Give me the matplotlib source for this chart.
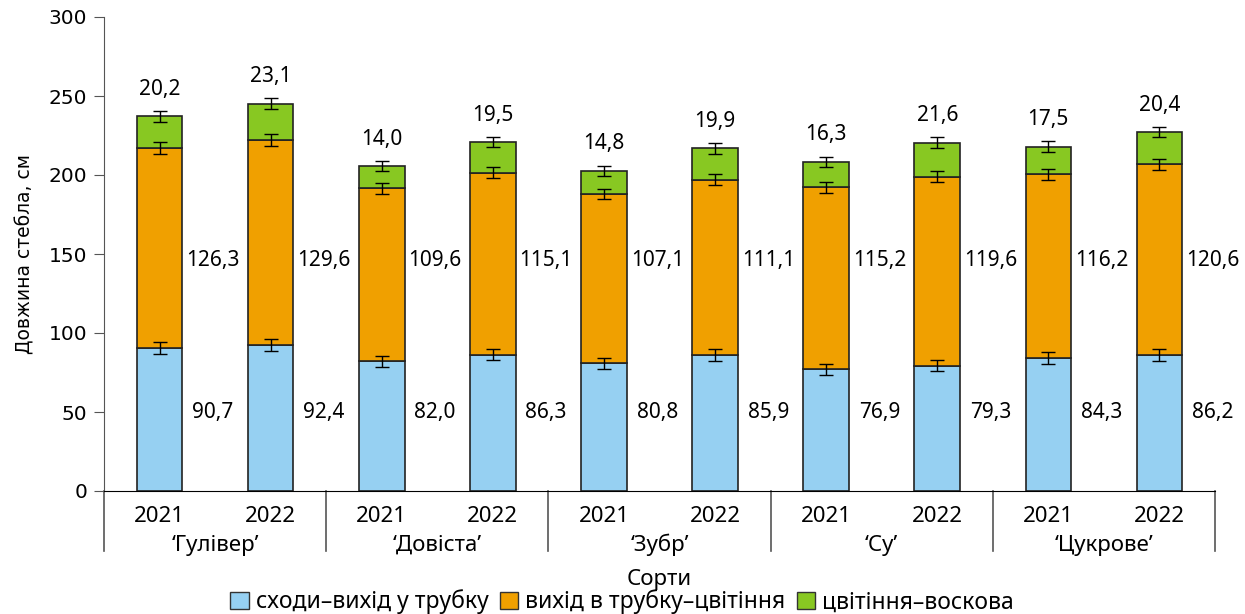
import matplotlib
matplotlib.use("Agg")
import matplotlib.pyplot as plt
from matplotlib.patches import Patch
import numpy as np

varieties = ["‘Гулівер’", "‘Довіста’", "‘Зубр’", "‘Су’", "‘Цукрове’"]
years = ["2021", "2022"]
seg1 = [90.7, 92.4, 82.0, 86.3, 80.8, 85.9, 76.9, 79.3, 84.3, 86.2]
seg2 = [126.3, 129.6, 109.6, 115.1, 107.1, 111.1, 115.2, 119.6, 116.2, 120.6]
seg3 = [20.2, 23.1, 14.0, 19.5, 14.8, 19.9, 16.3, 21.6, 17.5, 20.4]
err1 = [3.8, 3.8, 3.6, 3.7, 3.6, 3.7, 3.5, 3.6, 3.7, 3.7]
err2 = [3.6, 3.7, 3.4, 3.5, 3.4, 3.5, 3.5, 3.6, 3.5, 3.6]
err3 = [3.5, 3.6, 3.3, 3.4, 3.3, 3.4, 3.3, 3.4, 3.3, 3.4]
labels = ["сходи–вихід у трубку", "вихід в трубку–цвітіння", "цвітіння–воскова"]
colors = ["#96D0F2", "#F0A000", "#88C822"]

plt.rcParams['font.family'] = ['DejaVu Sans']
fig = plt.figure(figsize=(12.45, 6.14), dpi=100)
ax = fig.add_axes([104/1245, 1-491/614, (1215-104)/1245, (491-17)/614])

x = np.arange(len(seg1))
s1 = np.array(seg1); s2 = np.array(seg2); s3 = np.array(seg3)
w = 0.41
ekw = dict(ecolor="black", elinewidth=1.0, capsize=5, capthick=1.0, fmt="none")
ax.bar(x, s1, w, color=colors[0], edgecolor="#222222", linewidth=1.2, zorder=2)
ax.bar(x, s2, w, bottom=s1, color=colors[1], edgecolor="#222222", linewidth=1.2, zorder=2)
ax.bar(x, s3, w, bottom=s1+s2, color=colors[2], edgecolor="#222222", linewidth=1.2, zorder=2)
ax.errorbar(x, s1, yerr=err1, zorder=3, **ekw)
ax.errorbar(x, s1+s2, yerr=err2, zorder=3, **ekw)
ax.errorbar(x, s1+s2+s3, yerr=err3, zorder=3, **ekw)

fam = ["Noto Sans", "DejaVu Sans"]
lblfont = dict(fontsize=15, family=fam)
fmt = lambda v: f"{v:.1f}".replace(".", ",")
for i in range(len(x)):
    ax.text(x[i]+0.48, 49.4, fmt(s1[i]), ha="center", va="center", **lblfont)
    ax.text(x[i]+0.48, 146.2, fmt(s2[i]), ha="center", va="center", **lblfont)
    ax.text(x[i], s1[i]+s2[i]+s3[i]+17, fmt(s3[i]), ha="center", va="center", **lblfont)

ax.set_xlim(-0.5, len(x)-0.5)
ax.set_ylim(0, 300)
ax.set_yticks(np.arange(0, 301, 50))
ax.tick_params(axis="y", labelsize=14.5, direction="out", length=7, color="#555555", pad=5)
ax.set_xticks([])
for sp in ["top", "right"]:
    ax.spines[sp].set_visible(False)
ax.spines["left"].set_color("#555555")
ax.spines["left"].set_bounds(0, 300)
ax.spines["bottom"].set_color("black")

trans = ax.get_xaxis_transform()
ylow = -(551-491)/474
for b in np.arange(-0.5, len(x), 2):
    ax.plot([b, b], [0, ylow], transform=trans, color="#555555", lw=1.2, clip_on=False)

yfont = dict(fontsize=16, family=fam)
for i in range(len(x)):
    ax.text(x[i], -(517-491)/474, years[i % 2], transform=trans, ha="center", va="center", **yfont)
for g, v in enumerate(varieties):
    ax.text(2*g+0.5, -(545-491)/474, v, transform=trans, ha="center", va="center", **yfont)
ax.text(4.5, -(580-491)/474, "Сорти", transform=trans, ha="center", va="center", **yfont)

ax.set_ylabel("Довжина стебла, см", fontsize=13.5, labelpad=10)

handles = [Patch(facecolor=c, edgecolor="#333333", linewidth=1) for c in colors]
fig.legend(handles, labels, loc="center", bbox_to_anchor=(622/1245, 1-602/614), ncol=3,
           frameon=False, handlelength=0.8, handleheight=0.8, handletextpad=0.3,
           columnspacing=0.5, prop=dict(size=16.5, family=fam),
           borderpad=0, borderaxespad=0)

fig.savefig("out.png", dpi=100)
